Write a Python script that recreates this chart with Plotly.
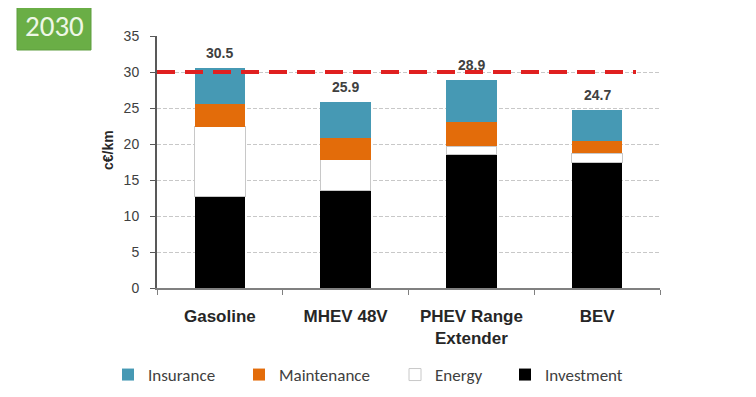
import plotly.graph_objects as go

categories = ["Gasoline", "MHEV 48V", "PHEV Range<br>Extender", "BEV"]
investment = [12.7, 13.6, 18.6, 17.4]
energy = [9.7, 4.2, 1.1, 1.3]
maintenance = [3.2, 3.1, 3.3, 1.7]
insurance = [4.9, 5.0, 5.9, 4.3]
threshold = 30
y_ticks = [0, 5, 10, 15, 20, 25, 30, 35]
year_label = "2030"
y_title = "c€/km"

totals = [round(a + b + c + d, 1) for a, b, c, d in zip(investment, energy, maintenance, insurance)]

# page places the figure 8px in from the top-left corner
OFF = 8
W, H = 756, 397
PL, PT, PW, PH = 157, 36, 503, 252  # target plot area on screen
L, T = PL - OFF, PT - OFF
R, B = W - L - PW, H - T - PH

def px(xpix):
    return (xpix - PL) / PW

def py(ypix):
    return (PT + PH - ypix) / PH

legend_font = dict(family="Carlito, Lato, sans-serif", size=17, color="#404040")

fig = go.Figure()
series = [
    ("Investment", investment, "#000000", "#000000", 0, "legend4"),
    ("Energy", energy, "#ffffff", "#c8c8c8", 1, "legend3"),
    ("Maintenance", maintenance, "#e36c0a", "#e36c0a", 0, "legend2"),
    ("Insurance", insurance, "#4699b4", "#4699b4", 0, "legend"),
]
for name, vals, col, lcol, lw, lg in series:
    fig.add_trace(go.Bar(
        x=categories, y=vals, name=name,
        marker=dict(color=col, line=dict(color=lcol, width=lw)),
        width=0.4, legend=lg, hoverinfo="skip",
    ))

for cat, tot in zip(categories, totals):
    fig.add_annotation(
        x=cat, y=tot, text=f"<b>{tot:.1f}</b>", showarrow=False,
        yshift=15, font=dict(family="Arial, Liberation Sans, sans-serif", size=14, color="#404040"),
    )

fig.add_shape(type="line", xref="paper", yref="y", x0=0, x1=px(636), y0=threshold, y1=threshold,
              line=dict(color="#e02020", width=4, dash="18px,10px"), layer="above")

# year badge
fig.add_shape(type="rect", xref="paper", yref="paper", x0=px(17), x1=px(91), y0=py(50), y1=py(2),
              fillcolor="#6aae46", line=dict(color="#5f9e3e", width=1), layer="above")
fig.add_annotation(
    xref="paper", yref="paper", x=px(54), y=py(26), text=year_label, showarrow=False,
    font=dict(family="Carlito, Lato, sans-serif", size=29, color="#eef7e6"),
    xanchor="center", yanchor="middle",
)

fig.add_annotation(
    xref="paper", yref="paper", x=px(108), y=py(150), text=f"<b>{y_title}</b>", showarrow=False,
    textangle=-90, font=dict(family="Arial, Liberation Sans, sans-serif", size=14, color="#262626"),
    xanchor="center", yanchor="middle",
)

leg_y = py(375)
common_leg = dict(orientation="h", yanchor="middle", y=leg_y, xanchor="left",
                  font=legend_font, bgcolor="rgba(0,0,0,0)", borderwidth=0)
fig.update_layout(
    legend=dict(x=px(108), **common_leg),
    legend2=dict(x=px(239), **common_leg),
    legend3=dict(x=px(395), **common_leg),
    legend4=dict(x=px(505), **common_leg),
)

fig.update_layout(
    width=W, height=H, barmode="stack",
    margin=dict(l=L, r=R, t=T, b=B, autoexpand=False),
    paper_bgcolor="white", plot_bgcolor="white",
    showlegend=True,
    xaxis=dict(
        showline=True, linecolor="#808080", linewidth=1.5,
        ticks="outside", tickson="boundaries", ticklen=5, tickcolor="#808080",
        tickfont=dict(family="Arial, Liberation Sans, sans-serif", size=17, color="#262626"),
        ticklabelstandoff=12,
        showgrid=False,
    ),
    yaxis=dict(
        range=[0, 35], tickvals=y_ticks, showline=True, linecolor="#595959", linewidth=2,
        ticks="outside", ticklen=5, tickcolor="#595959",
        tickfont=dict(family="Arial, Liberation Sans, sans-serif", size=14, color="#404040"),
        showgrid=True, gridcolor="#c8c8c8", griddash="4px,2px", gridwidth=1,
        zeroline=False, ticklabelstandoff=8,
    ),
    font=dict(family="Arial, Liberation Sans, sans-serif"),
)
fig.update_xaxes(ticktext=[f"<b>{c}</b>" for c in categories], tickvals=categories)

fig.write_html("out.html")
